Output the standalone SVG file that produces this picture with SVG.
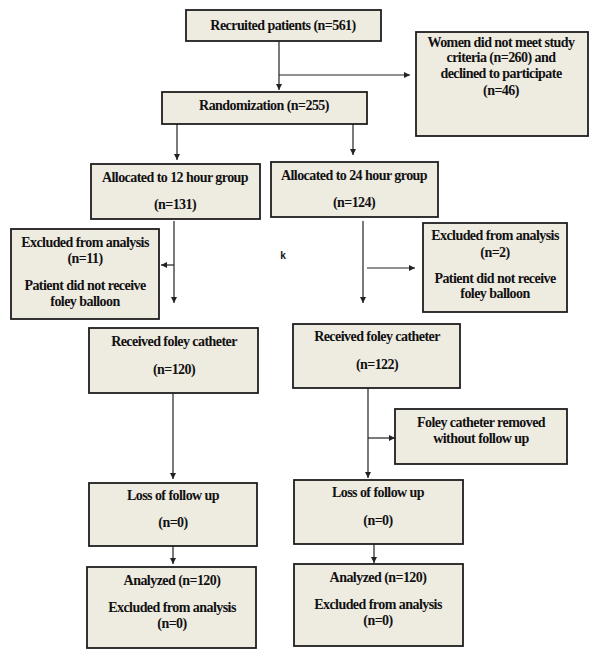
<svg xmlns="http://www.w3.org/2000/svg" width="594" height="659" viewBox="0 0 594 659">
<defs>
<style>
.box{fill:#eeebe1;stroke:#1e1e1e;stroke-width:1.8}
text{font-family:"Liberation Serif","Times New Roman",serif;font-weight:bold;font-size:14px;fill:#111;text-anchor:middle;letter-spacing:-0.55px}
.ln{stroke:#222;stroke-width:1.2;fill:none}
</style>
<marker id="ah" viewBox="0 0 10 10" refX="10" refY="5" markerWidth="6" markerHeight="6" orient="auto" markerUnits="userSpaceOnUse">
<path d="M0,0 L10,5 L0,10 z" fill="#222"/>
</marker>
</defs>
<rect width="594" height="659" fill="#fff"/>
<g id="connectors">
<path class="ln" d="M279,41 V90" marker-end="url(#ah)"/>
<path class="ln" d="M279,75 H410" marker-end="url(#ah)"/>
<path class="ln" d="M177,124 V160" marker-end="url(#ah)"/>
<path class="ln" d="M353,124 V155" marker-end="url(#ah)"/>
<path class="ln" d="M174,221 V303" marker-end="url(#ah)"/>
<path class="ln" d="M174,265 H161" marker-end="url(#ah)"/>
<path class="ln" d="M363,221 V303" marker-end="url(#ah)"/>
<path class="ln" d="M367,268 H415" marker-end="url(#ah)"/>
<path class="ln" d="M173,393 V479" marker-end="url(#ah)"/>
<path class="ln" d="M368,388 V478" marker-end="url(#ah)"/>
<path class="ln" d="M368,438 H395" marker-end="url(#ah)"/>
<path class="ln" d="M173,546 V564" marker-end="url(#ah)"/>
<path class="ln" d="M374,544 V563" marker-end="url(#ah)"/>
</g>
<g id="recruited"><rect class="box" x="186" y="10" width="195" height="31"/><text x="283" y="30">Recruited patients (n=561)</text></g>
<g id="notmeet"><rect class="box" x="416" y="32" width="172" height="104"/>
<text x="501" y="47">Women did not meet study</text>
<text x="501" y="62">criteria (n=260) and</text>
<text x="501" y="78">declined to participate</text>
<text x="501" y="95">(n=46)</text></g>
<g id="randomization"><rect class="box" x="162" y="92" width="205" height="32"/><text x="264" y="110">Randomization (n=255)</text></g>
<g id="alloc12"><rect class="box" x="91" y="164" width="169" height="55"/><text x="175" y="182">Allocated to 12 hour group</text><text x="175" y="209">(n=131)</text></g>
<g id="alloc24"><rect class="box" x="271" y="162" width="167" height="55"/><text x="354" y="180">Allocated to 24 hour group</text><text x="354" y="207">(n=124)</text></g>
<g id="excl12"><rect class="box" x="11" y="229" width="148" height="90"/>
<text x="85" y="247">Excluded from analysis</text>
<text x="85" y="263">(n=11)</text>
<text x="85" y="290">Patient did not receive</text>
<text x="85" y="306">foley balloon</text></g>
<text x="283" y="259" style="font-family:'Liberation Sans',Arial,sans-serif;font-size:10px;letter-spacing:0">k</text>
<g id="excl24"><rect class="box" x="423" y="223" width="144" height="89"/>
<text x="495" y="240">Excluded from analysis</text>
<text x="495" y="257">(n=2)</text>
<text x="495" y="283">Patient did not receive</text>
<text x="495" y="298">foley balloon</text></g>
<g id="recv12"><rect class="box" x="89" y="328" width="169" height="65"/><text x="174" y="346">Received foley catheter</text><text x="174" y="374">(n=120)</text></g>
<g id="recv24"><rect class="box" x="293" y="324" width="167" height="64"/><text x="377" y="341">Received foley catheter</text><text x="377" y="369">(n=122)</text></g>
<g id="removed"><rect class="box" x="395" y="409" width="172" height="55"/><text x="481" y="427">Foley catheter removed</text><text x="481" y="443">without follow up</text></g>
<g id="loss12"><rect class="box" x="89" y="483" width="168" height="63"/><text x="173" y="500">Loss of follow up</text><text x="173" y="527">(n=0)</text></g>
<g id="loss24"><rect class="box" x="294" y="480" width="169" height="64"/><text x="378" y="497">Loss of follow up</text><text x="378" y="525">(n=0)</text></g>
<g id="anal12"><rect class="box" x="87" y="567" width="169" height="81"/><text x="172" y="585">Analyzed (n=120)</text><text x="172" y="612">Excluded from analysis</text><text x="172" y="628">(n=0)</text></g>
<g id="anal24"><rect class="box" x="294" y="564" width="169" height="82"/><text x="378" y="582">Analyzed (n=120)</text><text x="378" y="609">Excluded from analysis</text><text x="378" y="625">(n=0)</text></g>
</svg>
